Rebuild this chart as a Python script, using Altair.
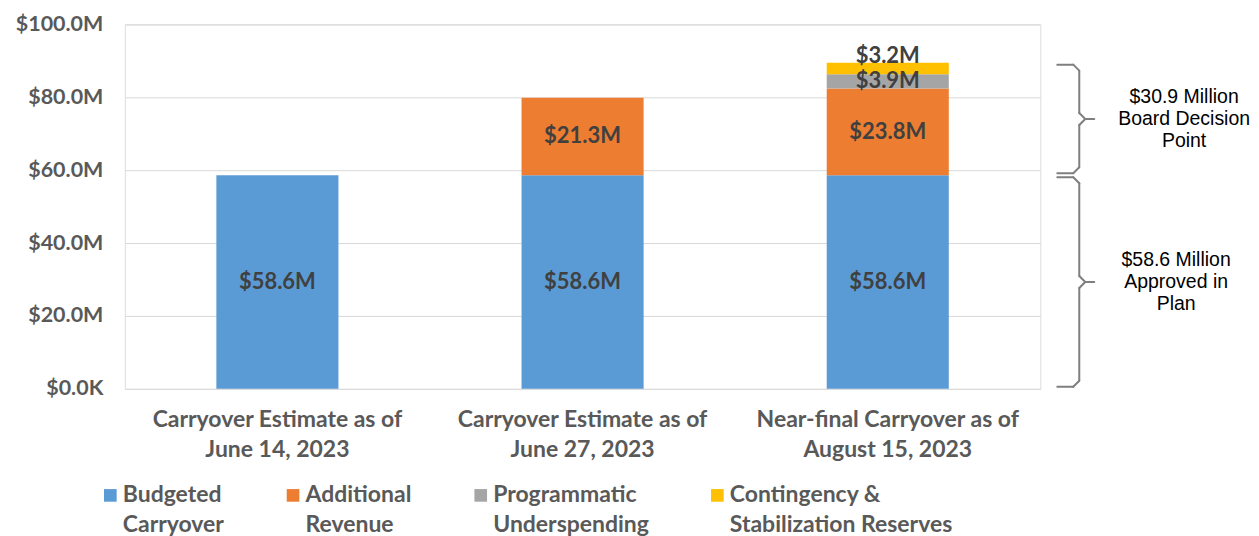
import altair as alt
import pandas as pd

# ---- data (values in $ millions) ----
bars = [
    "Carryover Estimate as of June 14, 2023",
    "Carryover Estimate as of June 27, 2023",
    "Near-final Carryover as of August 15, 2023",
]
categories = [
    "Budgeted Carryover",
    "Additional Revenue",
    "Programmatic Underspending",
    "Contingency & Stabilization Reserves",
]
colors = ["#5B9BD5", "#ED7D31", "#A5A5A5", "#FFC000"]

budgeted = [58.6, 58.6, 58.6]
additional = [0.0, 21.3, 23.8]
programmatic = [0.0, 0.0, 3.9]
contingency = [0.0, 0.0, 3.2]
series = [budgeted, additional, programmatic, contingency]

brace_lo = [58.6, 0.0]
brace_hi = [89.5, 58.6]
brace_text = ["$30.9 Million\nBoard Decision\nPoint", "$58.6 Million\nApproved in\nPlan"]

rows = []
for ci, (cat, vals) in enumerate(zip(categories, series)):
    for bi, b in enumerate(bars):
        if vals[bi] > 0:
            rows.append({"bar": b, "cat": cat, "idx": ci, "value": vals[bi],
                         "label": f"${vals[bi]:.1f}M"})
df = pd.DataFrame(rows)
braces = pd.DataFrame({"lo": brace_lo, "hi": brace_hi, "text": brace_text})

W, H = 917, 365
FONT = "Lato"
AXIS_GRAY = "#595959"

base = alt.Chart(df).transform_stack(
    stack="value", groupby=["bar"], as_=["y0", "y1"],
    sort=[alt.SortField("idx", order="ascending")],
).transform_calculate(mid="(datum.y0 + datum.y1) / 2")

x_enc = alt.X(
    "bar:N", sort=bars,
    scale=alt.Scale(paddingInner=0.6, paddingOuter=0.3),
    axis=alt.Axis(
        title=None, labelAngle=0, ticks=False, domain=False,
        labelExpr="[slice(datum.label, 0, indexof(datum.label, ' as of ') + 6), slice(datum.label, indexof(datum.label, ' as of ') + 7)]",
        labelFont=FONT, labelFontSize=23, labelFontWeight="bold", labelColor=AXIS_GRAY,
        labelLineHeight=30, labelPadding=20, labelLimit=500,
    ),
)
y_scale = alt.Scale(domain=[0, 100], nice=False)
y_enc = alt.Y(
    "y0:Q", scale=y_scale,
    axis=alt.Axis(
        title=None, values=[0, 20, 40, 60, 80, 100], ticks=False, domain=False,
        labelExpr="datum.value == 0 ? '$0.0K' : '$' + format(datum.value, '.1f') + 'M'",
        labelFont=FONT, labelFontSize=21.5, labelFontWeight="bold", labelColor=AXIS_GRAY,
        labelPadding=22, grid=True, gridColor="#D9D9D9", gridWidth=1,
    ),
)

legend_expr = ("indexof(datum.label, ' & ') > 0 ? "
               "[slice(datum.label, 0, indexof(datum.label, ' & ') + 2), slice(datum.label, indexof(datum.label, ' & ') + 3)] : "
               "[slice(datum.label, 0, indexof(datum.label, ' ')), slice(datum.label, indexof(datum.label, ' ') + 1)]")

bar_layer = base.mark_bar().encode(
    x=x_enc,
    y=y_enc,
    y2="y1:Q",
    color=alt.Color(
        "cat:N", sort=categories,
        scale=alt.Scale(domain=categories, range=colors),
        legend=alt.Legend(
            title=None, orient="none", legendX=-26, legendY=460,
            direction="horizontal", columns=4, symbolType="square", symbolSize=160,
            symbolStrokeWidth=0, labelFont=FONT, labelFontSize=23, labelFontWeight="bold",
            labelColor=AXIS_GRAY, labelLimit=400, columnPadding=57, labelOffset=1,
            labelExpr=legend_expr,
        ),
    ),
)

label_style = dict(font=FONT, fontSize=22, fontWeight="bold", color="#404040",
                   align="center", baseline="middle")
labels_main = base.transform_filter(alt.datum.idx < 3).mark_text(**label_style).encode(
    x=alt.X("bar:N", sort=bars), y=alt.Y("mid:Q", scale=y_scale), text="label:N")
labels_top = base.transform_filter(alt.datum.idx == 3).mark_text(dy=-13, **label_style).encode(
    x=alt.X("bar:N", sort=bars), y=alt.Y("mid:Q", scale=y_scale), text="label:N")

# ---- braces (drawn with rules: ends, corners, spine and tip) ----
BR = alt.Chart(braces).transform_calculate(mid="(datum.lo + datum.hi) / 2")
GRAY = "#7F7F7F"
x0, xv, xt, r = 934, 956, 971, 6
gap = 2
rule = dict(color=GRAY, strokeWidth=2, strokeCap="round")
ys = lambda f: alt.Y(f, scale=y_scale)
brace_layers = [
    # top end hook + corner
    BR.mark_rule(yOffset=gap, **rule).encode(x=alt.value(x0), x2=alt.value(xv - r), y=ys("hi:Q")),
    BR.mark_rule(yOffset=gap, y2Offset=gap + r, **rule).encode(
        x=alt.value(xv - r), x2=alt.value(xv), y=ys("hi:Q"), y2="hi:Q"),
    # bottom end hook + corner
    BR.mark_rule(yOffset=-gap, **rule).encode(x=alt.value(x0), x2=alt.value(xv - r), y=ys("lo:Q")),
    BR.mark_rule(yOffset=-gap, y2Offset=-gap - r, **rule).encode(
        x=alt.value(xv - r), x2=alt.value(xv), y=ys("lo:Q"), y2="lo:Q"),
    # spine
    BR.mark_rule(yOffset=gap + r, y2Offset=-r, **rule).encode(x=alt.value(xv), y=ys("hi:Q"), y2="mid:Q"),
    BR.mark_rule(yOffset=r, y2Offset=-gap - r, **rule).encode(x=alt.value(xv), y=ys("mid:Q"), y2="lo:Q"),
    # middle tip
    BR.mark_rule(yOffset=-r, **rule).encode(x=alt.value(xv), x2=alt.value(xv + r), y=ys("mid:Q"), y2="mid:Q"),
    BR.mark_rule(yOffset=r, **rule).encode(x=alt.value(xv), x2=alt.value(xv + r), y=ys("mid:Q"), y2="mid:Q"),
    BR.mark_rule(**rule).encode(x=alt.value(xv + r), x2=alt.value(xt), y=ys("mid:Q")),
]
text_style = dict(font="Liberation Sans", fontSize=19.5, lineHeight=22, lineBreak="\n",
                  align="center", baseline="middle", color="#000000", dy=-22)
brace_text_upper = BR.transform_filter(alt.datum.lo > 0).mark_text(**text_style).encode(
    x=alt.value(1061), y=ys("mid:Q"), text="text:N")
brace_text_lower = BR.transform_filter(alt.datum.lo <= 0).mark_text(**text_style).encode(
    x=alt.value(1053), y=ys("mid:Q"), text="text:N")

chart = alt.layer(
    bar_layer, labels_main, labels_top, *brace_layers, brace_text_upper, brace_text_lower
).properties(
    width=W, height=H,
    padding={"left": 7, "top": 5, "right": 0, "bottom": 0},
).configure_view(stroke=None).configure(style={"guide-label": {"lineHeight": 30}})

chart.save("out.html", embed_options={"renderer": "svg", "actions": False})
